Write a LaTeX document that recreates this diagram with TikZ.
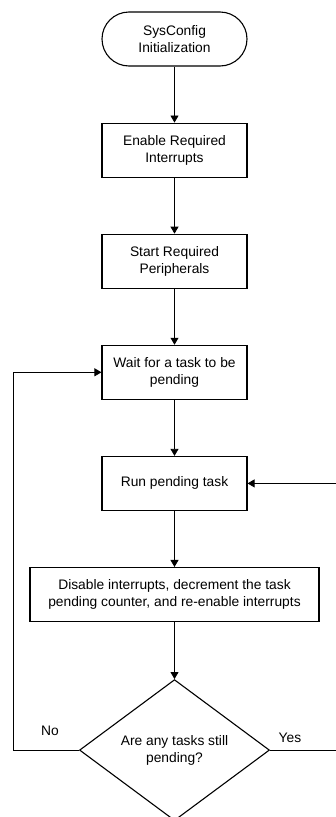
\documentclass[tikz,border=0pt]{standalone}
\usepackage{fontspec}
\setmainfont{Liberation Sans}
\usepackage{tikz}
\usetikzlibrary{shapes.geometric}
\usetikzlibrary{positioning}
\usetikzlibrary{arrows.meta}
\usetikzlibrary{calc}

\begin{document}
\begin{tikzpicture}[x=1pt,y=-1pt,node distance=56pt,
        every node/.style={font=\fontsize{13.8}{17}\selectfont,align=center},
        block/.style={draw,rectangle,line width=1.1pt,minimum width=145pt,minimum height=54pt,inner sep=0pt},
        term/.style={block,rounded corners=27pt},
        cond/.style={draw,diamond,line width=1.1pt,minimum width=190pt,minimum height=141pt,inner sep=0pt},
        flow/.style={-{Triangle[width=8pt,length=7pt]},line width=0.8pt}]
   \useasboundingbox (0,0) rectangle (335,817);
   \node[term] (init) at (174.5,39) {SysConfig\\Initialization};
   \node[block] (irq) [below=of init] {Enable Required\\Interrupts};
   \node[block] (periph) [below=of irq] {Start Required\\Peripherals};
   \node[block] (wait) [below=of periph] {Wait for a task to be\\pending};
   \node[block] (run) [below=of wait] {Run pending task};
   \node[block,minimum width=289pt] (dec) [below=of run] {Disable interrupts, decrement the task\\pending counter, and re-enable interrupts};
   \node[cond] (check) [below=57pt of dec] {Are any tasks still\\pending?};
   \coordinate (lft) at (13,0);
   \coordinate (rgt) at (337,0);
   \node (no) at (50,731) {No};
   \node (yes) at (290,738) {Yes};
   \draw[flow] (init) -- (irq);
   \draw[flow] (irq) -- (periph);
   \draw[flow] (periph) -- (wait);
   \draw[flow] (wait) -- (run);
   \draw[flow] (run) -- (dec);
   \draw[flow] (dec) -- (check);
   % loop back
   \draw[flow] (check.west) -- (check.west -| lft) |- (wait.west);
   \draw[flow] (check.east) -- (check.east -| rgt) |- (run.east);
\end{tikzpicture}
\end{document}
